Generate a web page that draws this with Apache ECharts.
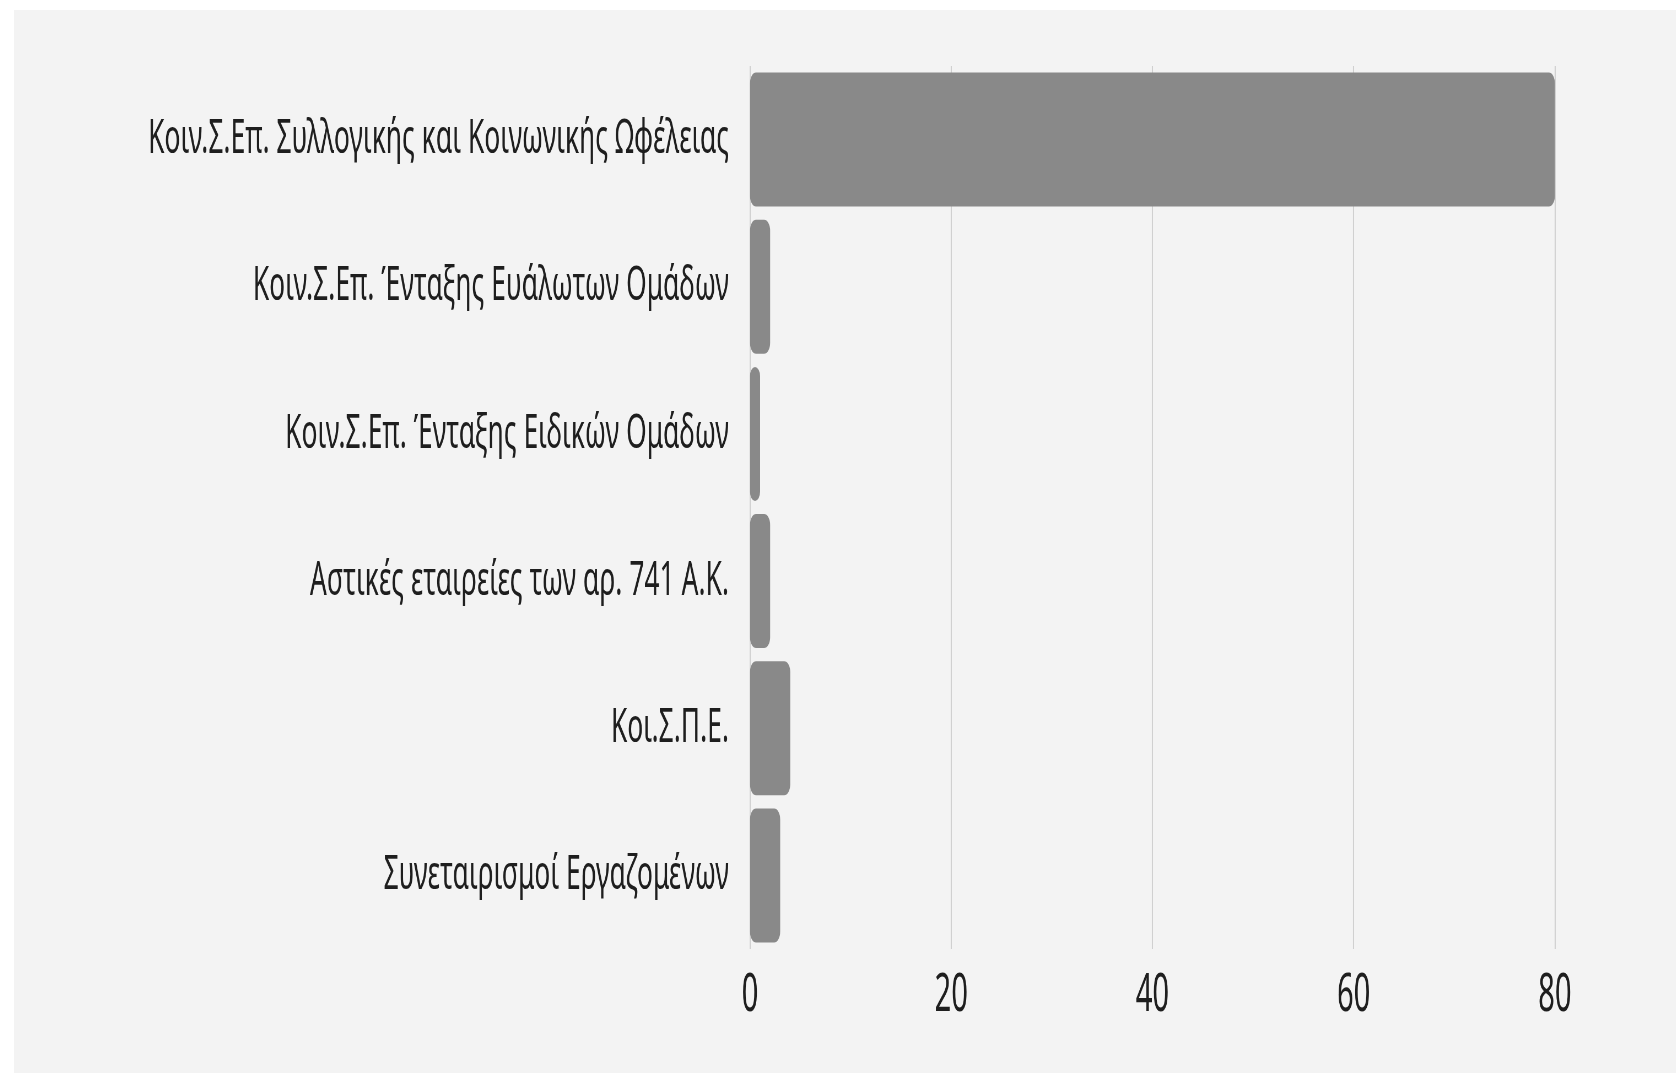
<!DOCTYPE html>
<html>
<head>
<meta charset="utf-8">
<script src="https://cdn.jsdelivr.net/npm/echarts@6/dist/echarts.min.js"></script>
<style>
  html, body { margin: 0; padding: 0; background: #ffffff; overflow: hidden; }
  #frame { position: absolute; left: 14px; top: 10px; width: 1662px; height: 1063px; background: #f3f3f3; overflow: hidden; }
  #chart { position: absolute; left: 0; top: 0; height: 1063px; transform-origin: 0 0; }
</style>
</head>
<body>
<div id="frame"><div id="chart"></div></div>
<script>
// κατηγορίες (από πάνω προς τα κάτω)
const categories = [
  'Κοιν.Σ.Επ. Συλλογικής και Κοινωνικής Ωφέλειας',
  'Κοιν.Σ.Επ. Ένταξης Ευάλωτων Ομάδων',
  'Κοιν.Σ.Επ. Ένταξης Ειδικών Ομάδων',
  'Αστικές εταιρείες των αρ. 741 Α.Κ.',
  'Κοι.Σ.Π.Ε.',
  'Συνεταιρισμοί Εργαζομένων'
];
const values = [80, 2, 1, 2, 4, 3];
const xTicks = [0, 20, 40, 60, 80];

const font = "'Noto Sans', sans-serif";
const labelSize = 48;
const tickSize = 53;

// the original text is tall and narrow: draw wider, then squeeze horizontally
let ctx = document.createElement('canvas').getContext('2d');
ctx.font = labelSize + 'px ' + font;
let w = ctx.measureText(categories[0]).width;
let sx = 581 / w;

let el = document.getElementById('chart');
el.style.width = (1662 / sx) + 'px';
el.style.transform = 'scaleX(' + sx + ')';

let chart = echarts.init(el);
chart.setOption({
  animation: false,
  backgroundColor: '#f3f3f3',
  grid: { left: 736 / sx, right: 121 / sx, top: 56, bottom: 124, containLabel: false },
  xAxis: {
    type: 'value',
    min: xTicks[0],
    max: xTicks[xTicks.length - 1],
    interval: 20,
    axisLine: { show: false },
    axisTick: { show: false },
    splitLine: { show: true, lineStyle: { color: '#d0d0d0', width: 1.6 / sx * 0.7 } },
    axisLabel: { color: '#1e1e1e', fontSize: tickSize, fontFamily: font, margin: 20 }
  },
  yAxis: {
    type: 'category',
    inverse: true,
    data: categories,
    axisLine: { show: false },
    axisTick: { show: false },
    axisLabel: { color: '#1e1e1e', fontSize: labelSize, fontFamily: font, margin: 21 / sx }
  },
  series: [{
    type: 'bar',
    data: values,
    barCategoryGap: '9%',
    itemStyle: { color: '#898989', borderRadius: 6 / sx }
  }]
});
</script>
</body>
</html>
